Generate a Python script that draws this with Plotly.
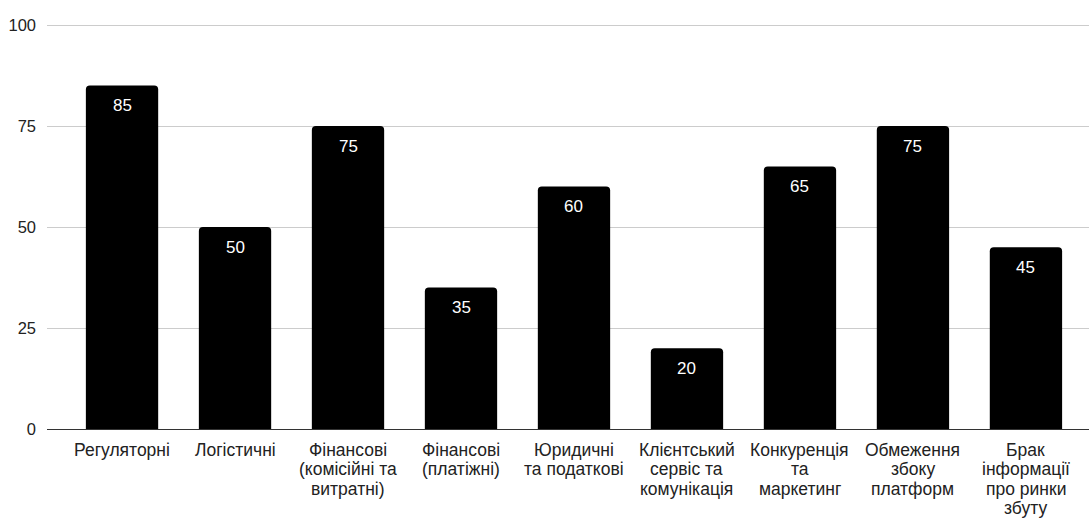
import plotly.graph_objects as go

# category names, one list entry per printed line
categories = [
    ["Регуляторні"],
    ["Логістичні"],
    ["Фінансові", "(комісійні та", "витратні)"],
    ["Фінансові", "(платіжні)"],
    ["Юридичні", "та податкові"],
    ["Клієнтський", "сервіс та", "комунікація"],
    ["Конкуренція", "та", "маркетинг"],
    ["Обмеження", "збоку", "платформ"],
    ["Брак", "інформації", "про ринки", "збуту"],
]
values = [85, 50, 75, 35, 60, 20, 65, 75, 45]
y_ticks = [0, 25, 50, 75, 100]

FONT = "Liberation Sans, Arial, sans-serif"
TEXT = "#222222"
LINE_STEP = 19.5
cat_keys = [" ".join(c) for c in categories]

fig = go.Figure()
fig.add_trace(go.Bar(
    x=cat_keys,
    y=values,
    marker=dict(color="#000000", line=dict(width=0), cornerradius=4),
    width=0.64,
    hoverinfo="skip",
))

# white value labels near the top of each bar
for k, v in zip(cat_keys, values):
    fig.add_annotation(
        x=k, y=v, xref="x", yref="y",
        text=str(v), showarrow=False,
        yanchor="middle", yshift=-20,
        font=dict(family=FONT, size=17, color="#ffffff"),
    )

# category labels under the axis, one line per annotation for tight spacing
for k, lines in zip(cat_keys, categories):
    for i, line in enumerate(lines):
        fig.add_annotation(
            x=k, y=0, xref="x", yref="paper",
            text=line, showarrow=False, borderpad=0,
            yanchor="middle", yshift=-(20.5 + LINE_STEP * i),
            font=dict(family=FONT, size=17.5, color=TEXT),
        )

fig.update_layout(
    width=1089, height=520,
    margin=dict(l=47, r=0, t=23, b=91),
    plot_bgcolor="#ffffff",
    paper_bgcolor="#ffffff",
    showlegend=False,
    font=dict(family=FONT, size=16, color=TEXT),
)
fig.update_xaxes(
    type="category",
    range=[-0.664, 8.558],
    showgrid=False,
    showline=True, linecolor="#333333", linewidth=1,
    ticks="", showticklabels=False,
    fixedrange=True,
)
fig.update_yaxes(
    range=[0, 100.5],
    tickvals=y_ticks,
    showgrid=True, gridcolor="#cccccc", gridwidth=1,
    zeroline=False,
    ticks="", ticklabelstandoff=10,
    tickfont=dict(family=FONT, size=16.5, color=TEXT),
    fixedrange=True,
)

fig.write_html("out.html")
